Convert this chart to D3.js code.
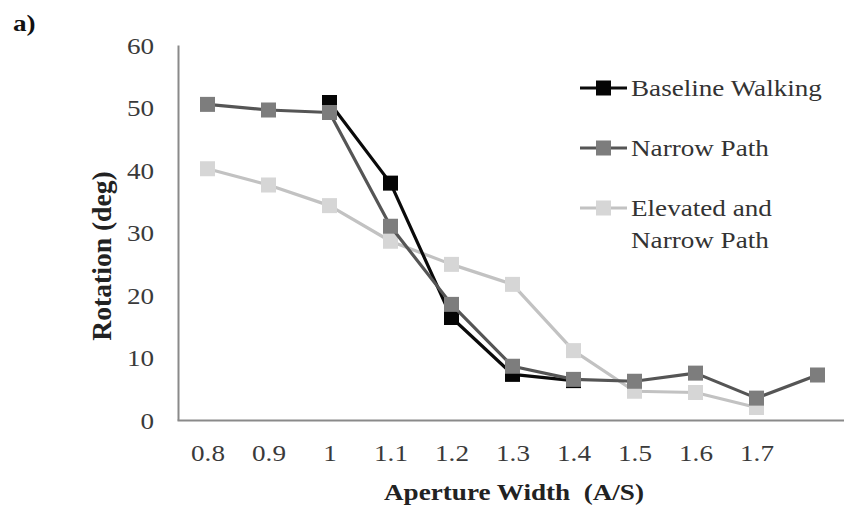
<!DOCTYPE html>
<html>
<head>
  <script src="https://d3js.org/d3.v7.min.js"></script>
  <style>
    body { margin: 0; background: #fff; overflow: hidden; }
    svg { display: block; font-family: "Liberation Serif", "Times New Roman", serif; }
  </style>
  <title>Rotation vs Aperture Width</title>
</head>
<body>
  <script>
    // Data
    const categories = ["0.8", "0.9", "1", "1.1", "1.2", "1.3", "1.4", "1.5", "1.6", "1.7", "1.8"];
    const tickLabels = ["0.8", "0.9", "1", "1.1", "1.2", "1.3", "1.4", "1.5", "1.6", "1.7", ""];
    const yTicks = [0, 10, 20, 30, 40, 50, 60];
    const baselineWalking = [null, null, 50.8, 37.9, 16.4, 7.3, 6.3, null, null, null, null];
    const narrowPath = [50.5, 49.6, 49.2, 31.0, 18.5, 8.6, 6.5, 6.2, 7.5, 3.5, 7.2];
    const elevatedNarrow = [40.2, 37.6, 34.3, 28.6, 24.9, 21.7, 11.1, 4.6, 4.4, 2.0, null];
    const seriesNames = ["Baseline Walking", "Narrow Path", "Elevated and Narrow Path"];

    const W = 844, H = 514;
    const sx = 1.18; // the figure's text is a bit wide

    const svg = d3.select("body").append("svg")
      .attr("width", W)
      .attr("height", H);

    const xScale = d3.scalePoint()
      .domain(categories)
      .range([177, 848])
      .padding(0.5);

    const yScale = d3.scaleLinear()
      .domain([0, 60])
      .range([420, 45]);

    // x axis
    const xAxis = svg.append("g")
      .attr("transform", "translate(0,420)")
      .call(d3.axisBottom(xScale).tickSize(0).tickPadding(33)
        .tickFormat(function (d, i) { return tickLabels[i]; }));
    xAxis.select(".domain").attr("stroke", "#8a8a8a").attr("stroke-width", 2);
    xAxis.selectAll("text")
      .attr("dy", "0.35em")
      .attr("transform", "scale(" + sx + ",1)")
      .attr("fill", "#3a3a3a")
      .style("font-size", "23px")
      .style("font-family", "Liberation Serif");

    // y axis
    const yAxis = svg.append("g")
      .attr("transform", "translate(178,0)")
      .call(d3.axisLeft(yScale).tickValues(yTicks).tickSize(0).tickFormat(d3.format("d")));
    yAxis.select(".domain").attr("stroke", "#8a8a8a").attr("stroke-width", 2);
    yAxis.selectAll("text")
      .attr("x", -24 / sx)
      .attr("dy", "0.35em")
      .attr("transform", "scale(" + sx + ",1)")
      .attr("fill", "#3a3a3a")
      .style("font-size", "23px")
      .style("font-family", "Liberation Serif");

    // series
    const series = [
      { name: seriesNames[1 - 1], values: baselineWalking, line: "#0a0a0a", mark: "#050505" },
      { name: seriesNames[1], values: narrowPath, line: "#555555", mark: "#7d7d7d" },
      { name: seriesNames[2], values: elevatedNarrow, line: "#c2c2c2", mark: "#d6d6d6" }
    ];
    const drawOrder = [series[2], series[0], series[1]];

    const line = d3.line()
      .defined(function (d) { return d.v !== null; })
      .x(function (d) { return xScale(d.c); })
      .y(function (d) { return yScale(d.v); });

    const m = 15;
    drawOrder.forEach(function (s) {
      const pts = categories.map(function (c, i) { return { c: c, v: s.values[i] }; });
      svg.append("path")
        .datum(pts)
        .attr("d", line)
        .attr("fill", "none")
        .attr("stroke", s.line)
        .attr("stroke-width", 3.2)
        .attr("stroke-linejoin", "round");
      svg.append("g").selectAll("rect")
        .data(pts.filter(function (d) { return d.v !== null; }))
        .enter()
        .append("rect")
        .attr("x", function (d) { return xScale(d.c) - m / 2; })
        .attr("y", function (d) { return yScale(d.v) - m / 2; })
        .attr("width", m)
        .attr("height", m)
        .attr("fill", s.mark);
    });

    // legend
    const legendRows = [
      { s: series[0], y: 88, lines: ["Baseline Walking"] },
      { s: series[1], y: 148, lines: ["Narrow Path"] },
      { s: series[2], y: 208, lines: ["Elevated and", "Narrow Path"] }
    ];
    const lg = svg.append("g");
    legendRows.forEach(function (r) {
      lg.append("line")
        .attr("x1", 580).attr("x2", 627)
        .attr("y1", r.y).attr("y2", r.y)
        .attr("stroke", r.s.line)
        .attr("stroke-width", 3.2);
      lg.append("rect")
        .attr("x", 603.5 - m / 2).attr("y", r.y - m / 2)
        .attr("width", m).attr("height", m)
        .attr("fill", r.s.mark);
      r.lines.forEach(function (t, k) {
        lg.append("text")
          .attr("transform", "translate(631," + (r.y + k * 32) + ") scale(" + sx + ",1)")
          .attr("dy", "0.35em")
          .attr("fill", "#333")
          .style("font-size", "23px")
          .text(t);
      });
    });

    // axis titles
    svg.append("text")
      .attr("transform", "translate(514,492) scale(" + sx + ",1)")
      .attr("text-anchor", "middle")
      .attr("dy", "0.35em")
      .attr("font-weight", "bold")
      .attr("fill", "#222")
      .style("font-size", "23px")
      .text("Aperture Width  (A/S)")
      .style("white-space", "pre");

    svg.append("text")
      .attr("transform", "translate(101,256) rotate(-90) scale(1.2,1.18)")
      .attr("text-anchor", "middle")
      .attr("dy", "0.35em")
      .attr("font-weight", "bold")
      .attr("fill", "#222")
      .style("font-size", "23px")
      .text("Rotation (deg)");

    // panel label
    svg.append("text")
      .attr("transform", "translate(13,23) scale(" + sx + ",1)")
      .attr("dy", "0.35em")
      .attr("font-weight", "bold")
      .attr("fill", "#111")
      .style("font-size", "23px")
      .text("a)");
  </script>
</body>
</html>
